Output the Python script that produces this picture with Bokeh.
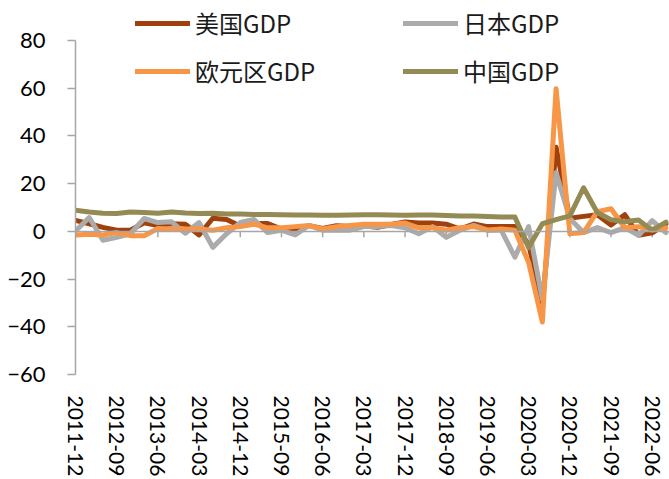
from bokeh.plotting import figure
from bokeh.models import Span, Legend, FixedTicker, Range1d
from bokeh.embed import file_html
from bokeh.resources import INLINE

quarters = [
    "2011-12", "2012-03", "2012-06", "2012-09", "2012-12", "2013-03", "2013-06", "2013-09",
    "2013-12", "2014-03", "2014-06", "2014-09", "2014-12", "2015-03", "2015-06", "2015-09",
    "2015-12", "2016-03", "2016-06", "2016-09", "2016-12", "2017-03", "2017-06", "2017-09",
    "2017-12", "2018-03", "2018-06", "2018-09", "2018-12", "2019-03", "2019-06", "2019-09",
    "2019-12", "2020-03", "2020-06", "2020-09", "2020-12", "2021-03", "2021-06", "2021-09",
    "2021-12", "2022-03", "2022-06", "2022-09",
]

us_gdp = [4.6, 3.2, 1.7, 0.5, 0.5, 3.6, 2.5, 3.2, 3.0, -1.5, 5.5, 5.0, 2.3, 3.3, 3.3, 1.0,
          0.4, 2.4, 1.2, 2.4, 2.0, 2.3, 1.7, 2.9, 3.9, 3.5, 3.5, 3.0, 1.0, 3.1, 2.0, 2.1,
          2.1, -5.3, -31.0, 35.3, 5.5, 6.3, 7.0, 2.7, 7.0, -1.6, -0.6, 3.2]

japan_gdp = [0.2, 5.8, -3.7, -2.5, -1.0, 5.4, 3.7, 4.0, -0.8, 3.7, -6.7, -1.0, 3.7, 5.0, -0.5, 0.5,
             -1.5, 2.5, 0.5, 0.5, 0.5, 2.0, 2.0, 2.5, 1.5, -1.0, 2.0, -2.5, 0.5, 2.5, 0.5, 0.5,
             -10.8, 2.0, -28.5, 24.6, 5.4, -0.5, 1.6, -0.5, 1.6, -1.7, 4.5, -0.5]

euro_gdp = [-1.5, -1.2, -1.5, -0.5, -1.8, -1.8, 1.2, 1.0, 1.0, 1.0, 0.5, 1.5, 2.0, 3.0, 1.5, 1.5,
            2.0, 2.5, 1.0, 2.0, 2.5, 3.0, 3.0, 3.0, 3.5, 1.5, 1.5, 0.5, 1.5, 2.0, 0.5, 1.0,
            0.5, -13.0, -38.0, 59.8, -1.0, -0.5, 8.3, 9.5, 1.5, 2.0, 1.0, 1.5]

china_gdp = [8.9, 8.1, 7.6, 7.5, 8.1, 7.9, 7.6, 8.1, 7.7, 7.5, 7.6, 7.3, 7.3, 7.1, 7.1, 7.0,
             6.9, 6.9, 6.8, 6.8, 6.9, 7.0, 7.0, 6.9, 6.8, 6.9, 6.9, 6.7, 6.5, 6.4, 6.2, 6.0,
             6.0, -6.8, 3.2, 4.9, 6.5, 18.3, 7.9, 4.9, 4.0, 4.8, 0.4, 3.9]

y_ticks = [-60, -40, -20, 0, 20, 40, 60, 80]
series_names = ["美国GDP", "日本GDP", "欧元区GDP", "中国GDP"]

idx = list(range(len(quarters)))
tick_idx = idx[::3]
AXIS_GREY = "#A6A6A6"

p = figure(width=669, height=479, output_backend="svg", toolbar_location=None,
           x_range=Range1d(0, 43.26), y_range=Range1d(-60, 96.8),
           min_border_left=75, min_border_right=0, min_border_top=0, min_border_bottom=105)
p.outline_line_color = None
p.grid.visible = False
p.background_fill_color = "white"
p.border_fill_color = "white"

# y axis
p.yaxis.ticker = FixedTicker(ticks=y_ticks)
p.yaxis.bounds = (-60, 80)
p.yaxis.axis_line_color = AXIS_GREY
p.yaxis.axis_line_width = 1.5
p.yaxis.major_tick_line_color = AXIS_GREY
p.yaxis.major_tick_line_width = 1.5
p.yaxis.major_tick_out = 8
p.yaxis.major_tick_in = 0
p.yaxis.minor_tick_line_color = None
p.yaxis.major_label_text_font = "Lato"
p.yaxis.major_label_text_font_size = "22px"
p.yaxis.major_label_text_color = "black"
p.yaxis.major_label_standoff = 22

# x axis (labels only at bottom)
p.xaxis.ticker = FixedTicker(ticks=tick_idx)
p.xaxis.major_label_overrides = {i: quarters[i] for i in tick_idx}
p.xaxis.major_label_orientation = "vertical"
p.xaxis.axis_line_color = None
p.xaxis.major_tick_line_color = None
p.xaxis.minor_tick_line_color = None
p.xaxis.major_tick_out = 0
p.xaxis.major_tick_in = 0
p.xaxis.major_label_text_font = "Lato"
p.xaxis.major_label_text_font_size = "21px"
p.xaxis.major_label_text_color = "black"
p.xaxis.major_label_standoff = 21

# zero line with category tick marks
p.add_layout(Span(location=0, dimension="width", line_color=AXIS_GREY, line_width=1.5))
p.segment(x0=tick_idx, y0=[0] * len(tick_idx), x1=tick_idx, y1=[-2.5] * len(tick_idx),
          line_color=AXIS_GREY, line_width=1.5)

colors = ["#A0410D", "#ABABAB", "#F79646", "#948A54"]
data = [us_gdp, japan_gdp, euro_gdp, china_gdp]
renderers = []
for vals, col in zip(data, colors):
    r = p.line(idx, vals, line_color=col, line_width=5, line_join="round", line_cap="round")
    renderers.append(r)

def make_legend(items, x, y):
    lg = Legend(items=items, location=(x, y), orientation="vertical")
    lg.label_text_font = "Noto Sans CJK SC"
    lg.label_text_font_size = "24px"
    lg.label_text_color = "#1a1a1a"
    lg.glyph_width = 55
    lg.glyph_height = 30
    lg.label_height = 30
    lg.label_standoff = 5
    lg.padding = 0
    lg.margin = 0
    lg.spacing = 13
    lg.border_line_color = None
    lg.background_fill_alpha = 0
    return lg

leg1 = make_legend([(series_names[0], [renderers[0]]), (series_names[2], [renderers[2]])], 60, 286)
leg2 = make_legend([(series_names[1], [renderers[1]]), (series_names[3], [renderers[3]])], 328, 286)
p.add_layout(leg1)
p.add_layout(leg2)

open("out.html", "w").write(file_html(p, INLINE))
